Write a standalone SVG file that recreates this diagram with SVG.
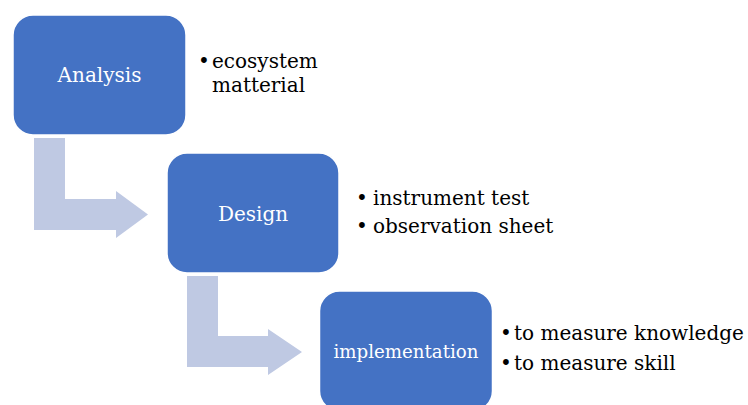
<svg xmlns="http://www.w3.org/2000/svg" width="748" height="405" viewBox="0 0 748 405">
<style>
.box{fill:#4472C4;stroke:#ffffff;stroke-width:1.5}
.arrow{fill:#BFC9E3;stroke:none}
.lbl{font-family:"DejaVu Serif","Liberation Serif",serif;font-size:20px;fill:#ffffff;text-anchor:middle}
.txt{font-family:"DejaVu Serif","Liberation Serif",serif;font-size:20px;fill:#000000}
.bul{font-family:"DejaVu Serif","Liberation Serif",serif;font-size:20px;fill:#000000;text-anchor:middle}
</style>
<rect width="748" height="405" fill="#ffffff"/>
<g id="connectors">
<path class="arrow" d="M34,138 H65 V199 H116 V191 L148,214.5 L116,238 V230 H34 Z"/>
<path class="arrow" d="M187,276 H218 V336 H268 V329 L302,352 L268,375 V367 H187 Z"/>
</g>
<g id="analysis">
<rect class="box" x="13" y="15" width="173" height="120" rx="20"/>
<text class="lbl" x="99.5" y="82">Analysis</text>
</g>
<g id="analysis-notes">
<text class="bul" x="204" y="68">•</text>
<text class="txt" x="212" y="68">ecosystem</text>
<text class="txt" x="212" y="92">matterial</text>
</g>
<g id="design">
<rect class="box" x="167" y="153" width="172" height="120" rx="20"/>
<text class="lbl" x="253" y="220.5">Design</text>
</g>
<g id="design-notes">
<text class="bul" x="362" y="205">•</text>
<text class="txt" x="373" y="205">instrument test</text>
<text class="bul" x="362" y="233">•</text>
<text class="txt" x="373" y="233">observation sheet</text>
</g>
<g id="implementation">
<rect class="box" x="319.5" y="291" width="173" height="120" rx="20"/>
<text class="lbl" x="406" y="357.5" style="font-size:18.2px">implementation</text>
</g>
<g id="implementation-notes">
<text class="bul" x="506" y="340">•</text>
<text class="txt" x="514" y="340">to measure knowledge</text>
<text class="bul" x="506" y="370">•</text>
<text class="txt" x="514" y="370">to measure skill</text>
</g>
</svg>
